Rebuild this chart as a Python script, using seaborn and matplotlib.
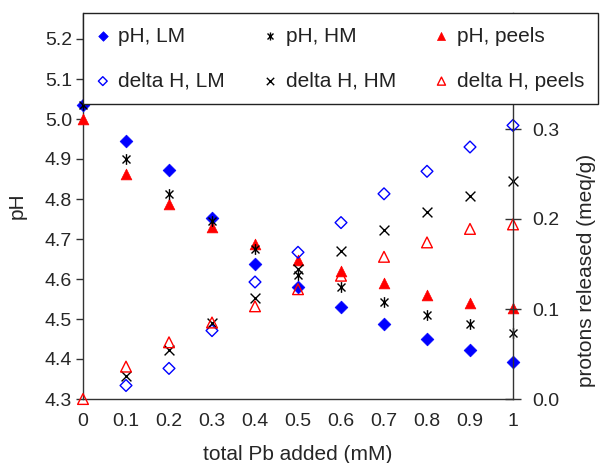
import numpy as np
import matplotlib
matplotlib.use("Agg")
import matplotlib.pyplot as plt
from matplotlib.path import Path
import seaborn as sns

# data
pb_added = [0, 0.1, 0.2, 0.3, 0.4, 0.5, 0.6, 0.7, 0.8, 0.9, 1.0]

ph_lm = [5.035, 4.945, 4.873, 4.752, 4.638, 4.58, 4.53, 4.488, 4.45, 4.423, 4.393]
ph_hm = [5.035, 4.90, 4.813, 4.745, 4.675, 4.61, 4.58, 4.543, 4.51, 4.488, 4.465]
ph_peels = [5.0, 4.863, 4.788, 4.73, 4.688, 4.648, 4.62, 4.59, 4.56, 4.54, 4.528]

# no LM / HM point drawn at zero Pb
dh_lm = [np.nan, 0.015, 0.034, 0.076, 0.13, 0.163, 0.196, 0.228, 0.253, 0.28, 0.304]
dh_hm = [np.nan, 0.026, 0.054, 0.085, 0.112, 0.144, 0.164, 0.188, 0.208, 0.225, 0.242]
dh_peels = [0.0, 0.036, 0.063, 0.085, 0.103, 0.122, 0.137, 0.158, 0.174, 0.189, 0.194]

x_ticks = [0, 0.1, 0.2, 0.3, 0.4, 0.5, 0.6, 0.7, 0.8, 0.9, 1]
x_ticklabels = ['0', '0.1', '0.2', '0.3', '0.4', '0.5', '0.6', '0.7', '0.8', '0.9', '1']
ph_ticks = [4.3, 4.4, 4.5, 4.6, 4.7, 4.8, 4.9, 5.0, 5.1, 5.2]
dh_ticks = [0.0, 0.1, 0.2, 0.3]

sns.set_style("white")
plt.rcParams['font.family'] = ['Liberation Sans', 'DejaVu Sans']
plt.rcParams['text.color'] = '#222222'

# asterisk marker: x with a vertical bar
star = Path([(-1, -1), (1, 1), (-1, 1), (1, -1), (0, -1.35), (0, 1.35)],
            [Path.MOVETO, Path.LINETO, Path.MOVETO, Path.LINETO, Path.MOVETO, Path.LINETO])

fig = plt.figure(figsize=(6.01, 4.63), dpi=100)
ax = fig.add_axes([83/601, 1 - 399/463, 430/601, 386/463])
ax2 = ax.twinx()

blue = '#0000FF'
red = '#FF0000'

sns.scatterplot(x=pb_added, y=ph_lm, ax=ax, marker='D', s=42, color=blue,
                edgecolor=blue, linewidth=0.5, clip_on=False, label='pH, LM', zorder=3)
sns.scatterplot(x=pb_added, y=ph_hm, ax=ax, marker=star, s=60, color='black',
                edgecolor='black', linewidth=1.0, clip_on=False, label='pH, HM', zorder=4)
sns.scatterplot(x=pb_added, y=ph_peels, ax=ax, marker='^', s=60, color=red,
                edgecolor=red, linewidth=0.5, clip_on=False, label='pH, peels', zorder=3)

sns.scatterplot(x=pb_added, y=dh_lm, ax=ax2, marker='D', s=36, facecolor='none',
                edgecolor=blue, linewidth=1.0, clip_on=False, label='delta H, LM')
sns.scatterplot(x=pb_added, y=dh_hm, ax=ax2, marker='x', s=50, color='black',
                linewidth=1.0, clip_on=False, label='delta H, HM')
sns.scatterplot(x=pb_added, y=dh_peels, ax=ax2, marker='^', s=60, facecolor='none',
                edgecolor=red, linewidth=1.0, clip_on=False, label='delta H, peels')

ax.set_xlim(0, 1)
ax.set_ylim(4.3, 4.3 + 386/400)
ax2.set_ylim(0, 386/900)

ax.set_xticks(x_ticks)
ax.set_xticklabels(x_ticklabels)
ax.set_yticks(ph_ticks)
ax.set_yticklabels([f'{v:.1f}' for v in ph_ticks])
ax2.set_yticks(dh_ticks)
ax2.set_yticklabels([f'{v:.1f}' for v in dh_ticks])

ax.set_xlabel('total Pb added (mM)', fontsize=15, labelpad=11)
ax.set_ylabel('pH', fontsize=15)
ax2.set_ylabel('protons released (meq/g)', fontsize=15)
ax.yaxis.set_label_coords(-0.13, 0.5)
ax2.yaxis.set_label_coords(1.148, 0.332)

spine_col = '#333333'
for a in (ax, ax2):
    for side in ('top', 'right', 'left', 'bottom'):
        a.spines[side].set_visible(False)
ax.spines['left'].set_visible(True)
ax.spines['bottom'].set_visible(True)
ax2.spines['right'].set_visible(True)
for sp in (ax.spines['left'], ax.spines['bottom'], ax2.spines['right']):
    sp.set_color(spine_col)
    sp.set_linewidth(1.0)

ax.tick_params(axis='y', direction='out', length=5, width=1, color=spine_col,
               labelsize=14, pad=3, left=True)
ax.tick_params(axis='x', length=0, labelsize=14, pad=10)
ax2.tick_params(axis='y', direction='inout', length=12, width=1, color=spine_col,
                labelsize=14, pad=8, right=True)

for a in (ax, ax2):
    if a.get_legend() is not None:
        a.get_legend().remove()

h1, l1 = ax.get_legend_handles_labels()
h2, l2 = ax2.get_legend_handles_labels()
# ncol=3 fills by column: pH on top row, delta H below
handles = [h1[0], h2[0], h1[1], h2[1], h1[2], h2[2]]
labels = [l1[0], l2[0], l1[1], l2[1], l1[2], l2[2]]
leg = fig.legend(handles, labels, ncol=3, loc='upper left',
                 bbox_to_anchor=(83/601, 1 - 13/463, 515/601, 0.0),
                 mode='expand', borderaxespad=0, fancybox=False, framealpha=1,
                 edgecolor='#222222', fontsize=15, markerscale=0.75,
                 handletextpad=0.45, handlelength=0.6, labelspacing=1.25,
                 borderpad=0.65)
leg.get_frame().set_linewidth(1.0)

fig.savefig('out.png', dpi=100)
